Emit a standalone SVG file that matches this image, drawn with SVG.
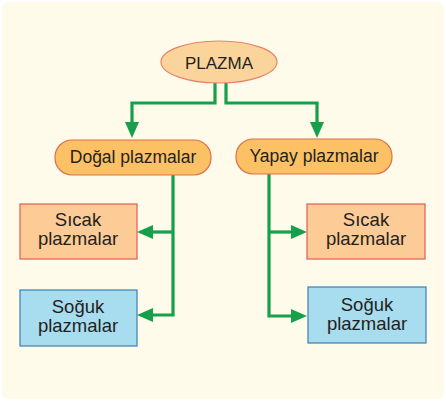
<svg xmlns="http://www.w3.org/2000/svg" width="446" height="403" viewBox="0 0 446 403">
<style>
text{font-family:"Liberation Sans",Arial,sans-serif;font-size:17.5px;fill:#231f20;text-anchor:middle}
.box{font-size:18.5px}
.conn{fill:none;stroke:#17a04c;stroke-width:3.2;stroke-linejoin:miter}
.pill{fill:#fcc164;stroke:#d9704e;stroke-width:1.2}
.hot{fill:#fdcb96;stroke:#e35a5a;stroke-width:1.2}
.cold{fill:#a8dcef;stroke:#3a7fb6;stroke-width:1.2}
</style>
<defs>
<marker id="ah" markerUnits="userSpaceOnUse" markerWidth="16" markerHeight="14" refX="8" refY="7" orient="auto">
<path d="M0,0 L16,7 L0,14 z" fill="#17a04c"/>
</marker>
</defs>
<rect x="0" y="0" width="446" height="403" fill="#ffffff"/>
<rect x="2" y="2" width="442" height="397" rx="6" fill="#fefbea"/>
<g id="connectors">
<path class="conn" d="M215,83 V103 H132 V130" marker-end="url(#ah)"/>
<path class="conn" d="M226,83 V103 H317 V130" marker-end="url(#ah)"/>
<path class="conn" d="M173,175 V315 H145" marker-end="url(#ah)"/>
<path class="conn" d="M173,232 H145" marker-end="url(#ah)"/>
<path class="conn" d="M269,174 V316 H299" marker-end="url(#ah)"/>
<path class="conn" d="M269,232 H299" marker-end="url(#ah)"/>
</g>
<g id="plazma">
<ellipse cx="219" cy="62" rx="58" ry="21" fill="#fbd49c" stroke="#e8836a" stroke-width="1.2"/>
<text x="219" y="69" style="font-size:17px">PLAZMA</text>
</g>
<g id="dogal">
<rect class="pill" x="55" y="140" width="156" height="35" rx="17"/>
<text x="133" y="163">Doğal plazmalar</text>
</g>
<g id="yapay">
<rect class="pill" x="236" y="139" width="156" height="35" rx="17"/>
<text x="314" y="162">Yapay plazmalar</text>
</g>
<g id="sicak-left">
<rect class="hot" x="20" y="204" width="117" height="55"/>
<text class="box" x="78" y="226">Sıcak</text>
<text class="box" x="78" y="245">plazmalar</text>
</g>
<g id="soguk-left">
<rect class="cold" x="20" y="290" width="117" height="56"/>
<text class="box" x="78" y="313">Soğuk</text>
<text class="box" x="78" y="332">plazmalar</text>
</g>
<g id="sicak-right">
<rect class="hot" x="307" y="204" width="118" height="55"/>
<text class="box" x="366" y="226">Sıcak</text>
<text class="box" x="366" y="245">plazmalar</text>
</g>
<g id="soguk-right">
<rect class="cold" x="308" y="287" width="118" height="56"/>
<text class="box" x="367" y="311">Soğuk</text>
<text class="box" x="367" y="330">plazmalar</text>
</g>
</svg>
